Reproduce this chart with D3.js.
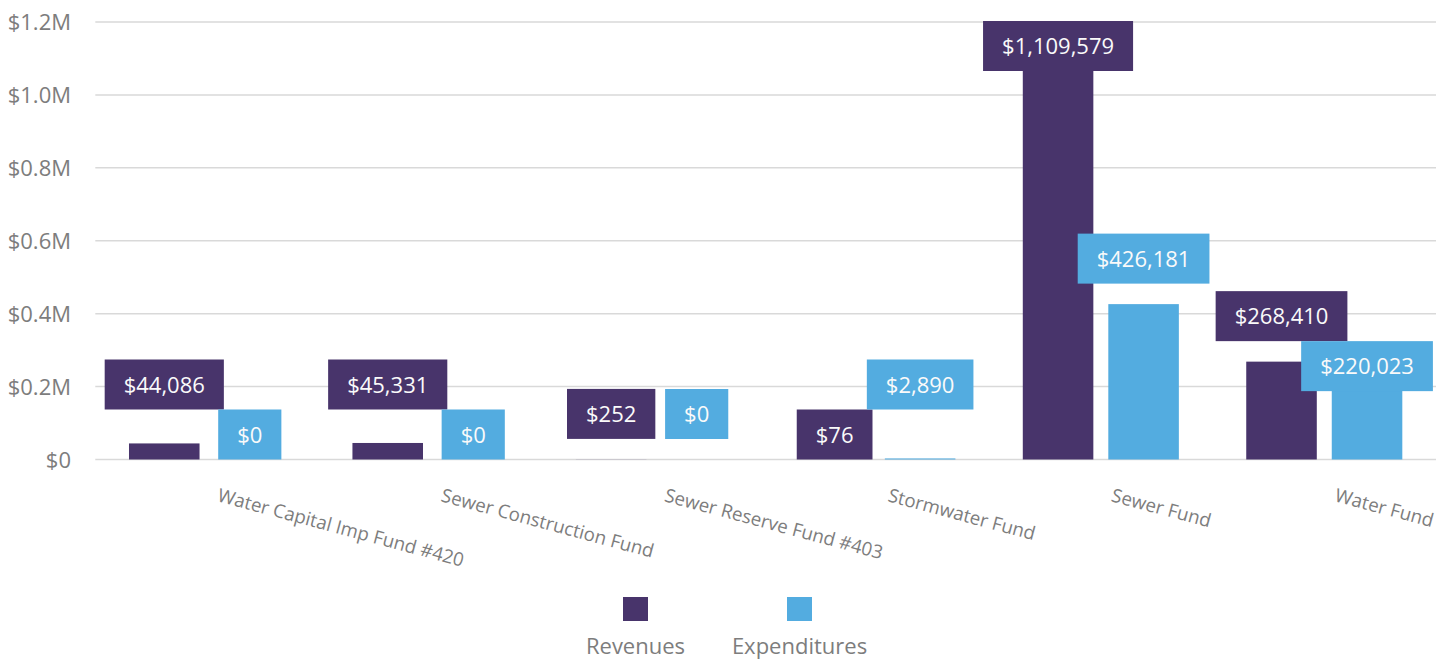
<!DOCTYPE html>
<meta charset="utf-8">
<style>
  body { margin: 0; background: #fff; }
  svg text { font-family: "Segoe UI", "Open Sans", sans-serif; }
</style>
<div id="chart"></div>
<script src="https://d3js.org/d3.v7.min.js"></script>
<script>
    const categories   = ["Water Capital Imp Fund #420", "Sewer Construction Fund", "Sewer Reserve Fund #403",
                          "Stormwater Fund", "Sewer Fund", "Water Fund"];
    const seriesNames  = ["Revenues", "Expenditures"];
    const revenues     = [44086, 45331, 252, 76, 1109579, 268410];
    const expenditures = [0, 0, 0, 2890, 426181, 220023];
    const yTicks       = [0, 200000, 400000, 600000, 800000, 1000000, 1200000];

    const width = 1449, height = 663;
    const colors = {"Revenues": "#48346b", "Expenditures": "#53ace0"};

    const svg = d3.select("#chart").append("svg")
                  .attr("width", width)
                  .attr("height", height);

    const x = d3.scaleBand()
                .domain(categories)
                .range([95.3, 1436]);

    const xSub = d3.scaleBand()
                   .domain(seriesNames)
                   .range([0, x.bandwidth()])
                   .paddingInner(0.175)
                   .paddingOuter(0.394);

    const y = d3.scaleLinear()
                .domain([0, 1200000])
                .range([459.5, 22]);

    // gridlines + y labels
    const grid = svg.append("g");
    grid.selectAll("line")
        .data(yTicks)
        .join("line")
        .attr("x1", x.range()[0])
        .attr("x2", x.range()[1])
        .attr("y1", d => y(d))
        .attr("y2", d => y(d))
        .attr("stroke", "#d9d9d9")
        .attr("stroke-width", 1.5);

    grid.selectAll("text")
        .data(yTicks)
        .join("text")
        .attr("x", 71)
        .attr("y", d => y(d) + 8)
        .attr("text-anchor", "end")
        .attr("fill", "#7d7d7d")
        .style("font-size", "22px")
        .text(d => d === 0 ? "$0" : "$" + (d / 1e6).toFixed(1) + "M");

    // flatten data
    const rows = [];
    categories.forEach((c, i) => {
        rows.push({cat: c, series: "Revenues", value: revenues[i]});
        rows.push({cat: c, series: "Expenditures", value: expenditures[i]});
    });

    svg.append("g")
       .selectAll("rect")
       .data(rows)
       .join("rect")
       .attr("x", d => x(d.cat) + xSub(d.series))
       .attr("width", xSub.bandwidth())
       .attr("y", d => y(d.value))
       .attr("height", d => y(0) - y(d.value))
       .attr("fill", d => colors[d.series]);

    // data labels with simple collision handling per category
    const fmt = d3.format(",");
    const boxH = 50, pad = 19, gap = 20.5;
    const labelG = svg.append("g");

    const measure = labelG.append("text").style("font-size", "22px");
    rows.forEach(d => {
        d.text = "$" + fmt(d.value);
        measure.text(d.text);
        d.w = measure.node().getComputedTextLength() + pad * 2;
        d.cx = x(d.cat) + xSub(d.series) + xSub.bandwidth() / 2;
        d.bottom = y(d.value) - gap;
        if (d.bottom - boxH < y.range()[1] - 1) d.bottom = y.range()[1] - 1 + boxH;
    });
    measure.remove();

    categories.forEach(c => {
        const pair = rows.filter(r => r.cat === c);
        const [a, b] = pair;
        const hOverlap = Math.abs(a.cx - b.cx) < (a.w + b.w) / 2;
        const vOverlap = Math.abs(a.bottom - b.bottom) < boxH;
        if (hOverlap && vOverlap) {
            const hi = a.value >= b.value ? a : b;
            const lo = hi === a ? b : a;
            lo.bottom = hi.bottom + boxH;
            if (lo.bottom > y(0)) {
                lo.bottom = y(0);
                hi.bottom = lo.bottom - boxH;
            }
        }
    });

    const lbl = labelG.selectAll("g")
                      .data(rows)
                      .join("g");

    lbl.append("rect")
       .attr("x", d => d.cx - d.w / 2)
       .attr("y", d => d.bottom - boxH)
       .attr("width", d => d.w)
       .attr("height", boxH)
       .attr("fill", d => colors[d.series]);

    lbl.append("text")
       .attr("x", d => d.cx)
       .attr("y", d => d.bottom - boxH / 2 + 8)
       .attr("text-anchor", "middle")
       .attr("fill", "#fafafa")
       .style("font-size", "22px")
       .text(d => d.text);

    // category labels (tilted)
    svg.append("g")
       .selectAll("text")
       .data(categories)
       .join("text")
       .attr("transform", d => `translate(${x(d) + x.bandwidth() / 2 + 13},488) rotate(15)`)
       .attr("dy", 13.5)
       .attr("fill", "#7d7d7d")
       .style("font-size", "18.7px")
       .text(d => d);

    // legend
    const legend = svg.append("g")
                      .selectAll("g")
                      .data(seriesNames)
                      .join("g")
                      .attr("transform", (d, i) => `translate(${width / 2 - 89 + i * 164},0)`);

    legend.append("rect")
          .attr("x", -12.5)
          .attr("y", 597)
          .attr("width", 25)
          .attr("height", 24)
          .attr("fill", d => colors[d]);

    legend.append("text")
          .attr("y", 654)
          .attr("text-anchor", "middle")
          .attr("fill", "#7d7d7d")
          .style("font-size", "22px")
          .text(d => d);
</script>
